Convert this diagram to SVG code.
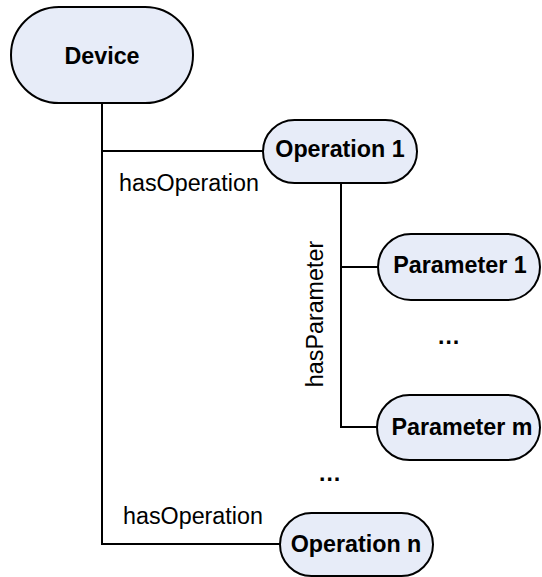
<svg xmlns="http://www.w3.org/2000/svg" width="542" height="577" viewBox="0 0 542 577">
<style>
.node rect{fill:#E7ECF8;stroke:#000;stroke-width:2}
.node text{font-family:"Liberation Sans",Arial,sans-serif;font-weight:bold;font-size:23.3px;text-anchor:middle;fill:#000}
.lbl{font-family:"Liberation Sans",Arial,sans-serif;font-size:23.3px;fill:#000}
.dots{font-family:"Liberation Sans",Arial,sans-serif;font-weight:bold;font-size:23.3px;fill:#000}
#connectors path{fill:none;stroke:#000;stroke-width:2}
</style>
<rect width="542" height="577" fill="#fff"/>
<g id="connectors">
<path d="M102,103 V544 H280"/>
<path d="M102,151 H263"/>
<path d="M341,183 V427 H377"/>
<path d="M341,267 H378"/>
</g>
<g id="labels">
<text class="lbl" x="119" y="191">hasOperation</text>
<text class="lbl" x="123" y="524">hasOperation</text>
<text class="lbl" transform="translate(323,314) rotate(-90)" text-anchor="middle">hasParameter</text>
<text class="dots" x="437" y="344">…</text>
<text class="dots" x="318" y="481">…</text>
</g>
<g id="device" class="node">
<rect x="11" y="7" width="182" height="96" rx="48" ry="48"/>
<text x="102" y="64">Device</text>
</g>
<g id="operation1" class="node">
<rect x="263" y="120" width="154" height="63" rx="31.5" ry="31.5"/>
<text x="340" y="157">Operation 1</text>
</g>
<g id="parameter1" class="node">
<rect x="378" y="234" width="162" height="66" rx="33" ry="33"/>
<text x="460" y="273">Parameter 1</text>
</g>
<g id="parameterm" class="node">
<rect x="377" y="395" width="163" height="65" rx="32.5" ry="32.5"/>
<text x="462" y="435">Parameter m</text>
</g>
<g id="operationn" class="node">
<rect x="280" y="513" width="153" height="63" rx="31.5" ry="31.5"/>
<text x="356" y="552">Operation n</text>
</g>
</svg>
